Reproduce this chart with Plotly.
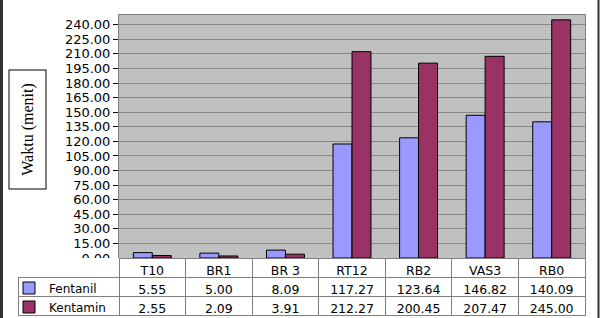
import plotly.graph_objects as go

categories = ["T10", "BR1", "BR 3", "RT12", "RB2", "VAS3", "RB0"]
fentanil = [5.55, 5.00, 8.09, 117.27, 123.64, 146.82, 140.09]
kentamin = [2.55, 2.09, 3.91, 212.27, 200.45, 207.47, 245.00]
series_names = ["Fentanil", "Kentamin"]
series_colors = ["#9999FF", "#993366"]
y_title = "Waktu (menit)"

W, H = 601, 318
def px(x):
    return x / W
def py(y):
    return 1 - y / H

fig = go.Figure()
for name, vals, col in zip(series_names, [fentanil, kentamin], series_colors):
    fig.add_trace(go.Bar(
        x=categories, y=vals, name=name,
        marker=dict(color=col, line=dict(color="#000000", width=1)),
    ))

# data table below the chart
header_vals = [""] + categories
cell_vals = [["", ""]] + [[f"{f:.2f}", f"{k:.2f}"] for f, k in zip(fentanil, kentamin)]
fig.add_trace(go.Table(
    domain=dict(x=[px(18), px(585)], y=[py(317), py(258)]),
    columnwidth=[101] + [66.57] * len(categories),
    header=dict(
        values=header_vals, height=19, align="center",
        fill=dict(color="white"),
        line=dict(color=["rgba(0,0,0,0)"] + ["#808080"] * len(categories), width=1),
        font=dict(family="DejaVu Sans", size=12.5, color="black"),
    ),
    cells=dict(
        values=cell_vals, height=19, align="center",
        fill=dict(color="white"),
        line=dict(color="#808080", width=1),
        font=dict(family="DejaVu Sans", size=12.5, color="black"),
    ),
))

fig.update_layout(
    width=W, height=H,
    margin=dict(l=0, r=0, t=0, b=0, autoexpand=False),
    paper_bgcolor="white",
    plot_bgcolor="#C0C0C0",
    barmode="group", bargap=0.43, bargroupgap=0,
    font=dict(family="DejaVu Sans", size=12, color="black"),
    showlegend=True,
    legend=dict(
        x=px(9), y=py(273.5), xanchor="left", yanchor="top",
        bgcolor="rgba(0,0,0,0)", tracegroupgap=0,
        font=dict(family="DejaVu Sans", size=12, color="black"),
    ),
    xaxis=dict(
        domain=[px(119), px(585)],
        showticklabels=False, ticks="outside", tickson="boundaries",
        ticklen=4, tickcolor="#808080",
        showline=True, linecolor="#808080", mirror=True,
        showgrid=False, automargin=False,
    ),
    yaxis=dict(
        domain=[py(258), py(15)],
        range=[0, 250], dtick=15, tick0=0, tickformat=".2f",
        ticks="outside", ticklen=5, tickcolor="#000000",
        showline=True, linecolor="#808080", mirror=True,
        gridcolor="#878787", gridwidth=1,
        tickfont=dict(family="DejaVu Sans", size=13, color="black"),
        zeroline=False, automargin=False,
    ),
    annotations=[dict(
        text=y_title, xref="paper", yref="paper",
        x=px(27.5), y=py(130), xanchor="center", yanchor="middle",
        showarrow=False, textangle=-90,
        width=118, height=36, borderpad=0,
        bordercolor="#000000", borderwidth=1, bgcolor="white",
        font=dict(family="Liberation Serif", size=16, color="black"),
    )],
    shapes=[
        dict(type="line", xref="paper", yref="paper", x0=px(1.5), x1=px(1.5), y0=0, y1=1,
             line=dict(color="#333333", width=3)),
        dict(type="line", xref="paper", yref="paper", x0=px(598.5), x1=px(598.5), y0=0, y1=1,
             line=dict(color="#333333", width=2)),
    ],
)

fig.write_html("out.html")
